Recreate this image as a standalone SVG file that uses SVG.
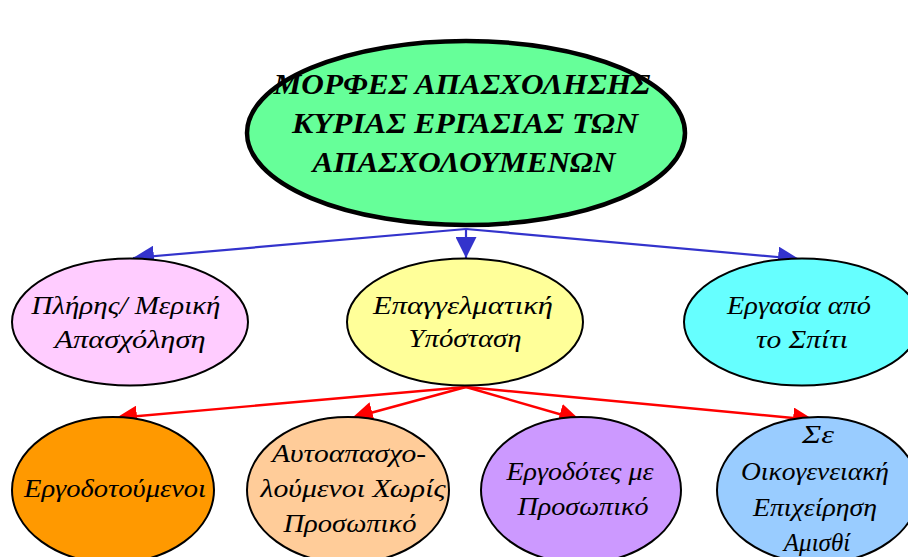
<svg xmlns="http://www.w3.org/2000/svg" width="908" height="557" viewBox="0 0 908 557">
<defs>
<style>
.n{stroke:#000;stroke-width:2}
.t{font-family:"Liberation Serif","DejaVu Serif",serif;font-style:italic;font-size:25px;fill:#000;text-anchor:middle}
.h{font-family:"Liberation Serif","DejaVu Serif",serif;font-style:italic;font-weight:bold;font-size:30px;fill:#000;text-anchor:middle}
.b{stroke:#3333CC;stroke-width:2.2;fill:none}
.r{stroke:#FF0000;stroke-width:2.4;fill:none}
</style>
<marker id="ab" viewBox="0 0 20 20" refX="20" refY="10" markerWidth="21" markerHeight="21" markerUnits="userSpaceOnUse" orient="auto"><path d="M0,0L20,10L0,20z" fill="#3333CC"/></marker>
<marker id="ar" viewBox="0 0 20 20" refX="20" refY="10" markerWidth="21" markerHeight="21" markerUnits="userSpaceOnUse" orient="auto"><path d="M0,0L20,10L0,20z" fill="#FF0000"/></marker>
</defs>
<rect width="908" height="557" fill="#fff"/>
<g id="connectors">
<line class="b" x1="466" y1="229" x2="133" y2="258" marker-end="url(#ab)"/>
<line class="b" x1="466" y1="229" x2="466" y2="258" marker-end="url(#ab)"/>
<line class="b" x1="466" y1="229" x2="799" y2="259" marker-end="url(#ab)"/>
<line class="r" x1="466" y1="387" x2="116" y2="418" marker-end="url(#ar)"/>
<line class="r" x1="466" y1="387" x2="352" y2="418" marker-end="url(#ar)"/>
<line class="r" x1="466" y1="387" x2="580" y2="420" marker-end="url(#ar)"/>
<line class="r" x1="466" y1="387" x2="814" y2="420" marker-end="url(#ar)"/>
</g>
<g id="title">
<ellipse cx="466" cy="133" rx="219" ry="92" fill="#66FF99" stroke="#000" stroke-width="4.5"/>
<text class="h" x="462" y="94" textLength="377" lengthAdjust="spacingAndGlyphs">ΜΟΡΦΕΣ ΑΠΑΣΧΟΛΗΣΗΣ</text>
<text class="h" x="465" y="133" textLength="346" lengthAdjust="spacingAndGlyphs">ΚΥΡΙΑΣ ΕΡΓΑΣΙΑΣ ΤΩΝ</text>
<text class="h" x="464" y="172" textLength="303" lengthAdjust="spacingAndGlyphs">ΑΠΑΣΧΟΛΟΥΜΕΝΩΝ</text>
</g>
<g id="pliris">
<ellipse class="n" cx="130" cy="322" rx="118" ry="63.5" fill="#FFCCFF"/>
<text class="t" x="126" y="314" textLength="189" lengthAdjust="spacingAndGlyphs">Πλήρης/ Μερική</text>
<text class="t" x="130" y="348" textLength="151" lengthAdjust="spacingAndGlyphs">Απασχόληση</text>
</g>
<g id="epaggelmatiki">
<ellipse class="n" cx="465" cy="322" rx="118" ry="63.5" fill="#FFFF99"/>
<text class="t" x="463" y="314" textLength="180" lengthAdjust="spacingAndGlyphs">Επαγγελματική</text>
<text class="t" x="465" y="347" textLength="113" lengthAdjust="spacingAndGlyphs">Υπόσταση</text>
</g>
<g id="spiti">
<ellipse class="n" cx="802" cy="322" rx="118" ry="63.5" fill="#66FFFF"/>
<text class="t" x="799" y="314" textLength="144" lengthAdjust="spacingAndGlyphs">Εργασία από</text>
<text class="t" x="802" y="348" textLength="92" lengthAdjust="spacingAndGlyphs">το Σπίτι</text>
</g>
<g id="ergodotoumenoi">
<ellipse class="n" cx="113" cy="490" rx="101" ry="73" fill="#FF9900"/>
<text class="t" x="115" y="497" textLength="182" lengthAdjust="spacingAndGlyphs">Εργοδοτούμενοι</text>
</g>
<g id="autoapasx">
<ellipse class="n" cx="348" cy="490" rx="101" ry="73" fill="#FFCC99"/>
<text class="t" x="349" y="462" textLength="154" lengthAdjust="spacingAndGlyphs">Αυτοαπασχο-</text>
<text class="t" x="353" y="497" textLength="185" lengthAdjust="spacingAndGlyphs">λούμενοι Χωρίς</text>
<text class="t" x="350" y="532" textLength="133" lengthAdjust="spacingAndGlyphs">Προσωπικό</text>
</g>
<g id="ergodotes">
<ellipse class="n" cx="581" cy="490" rx="100" ry="73" fill="#CC99FF"/>
<text class="t" x="580" y="480" textLength="147" lengthAdjust="spacingAndGlyphs">Εργοδότες με</text>
<text class="t" x="583" y="515" textLength="131" lengthAdjust="spacingAndGlyphs">Προσωπικό</text>
</g>
<g id="oikogeneiaki">
<ellipse class="n" cx="818" cy="490" rx="101" ry="73" fill="#99CCFF"/>
<text class="t" x="818" y="443" textLength="32" lengthAdjust="spacingAndGlyphs">Σε</text>
<text class="t" x="815" y="480" textLength="148" lengthAdjust="spacingAndGlyphs">Οικογενειακή</text>
<text class="t" x="815" y="516" textLength="124" lengthAdjust="spacingAndGlyphs">Επιχείρηση</text>
<text class="t" x="817" y="551">Αμισθί</text>
</g>
</svg>
